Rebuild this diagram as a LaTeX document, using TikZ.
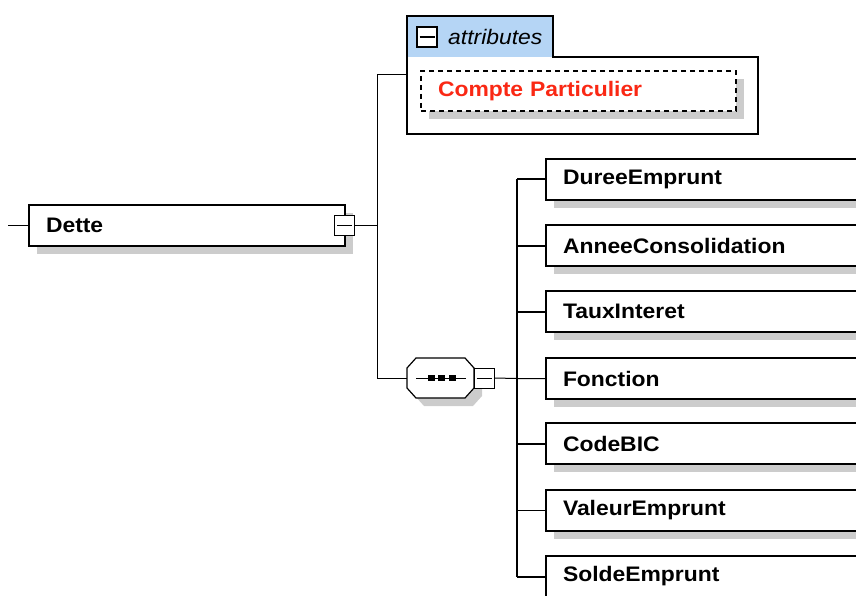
\documentclass[tikz,border=0pt]{standalone}
\usepackage{fontspec}
\setmainfont{Liberation Sans}
\newfontfamily\boxfont[FakeStretch=1.09]{Liberation Sans}
\usetikzlibrary{shadows,calc}
\definecolor{shadowgray}{RGB}{204,204,204}
\definecolor{tabblue}{RGB}{181,213,245}
\definecolor{attrred}{RGB}{250,40,20}
\begin{document}
\begin{tikzpicture}[x=1pt,y=-1pt,
  sh/.style={general shadow={fill=shadowgray, shadow xshift=8pt, shadow yshift=-8pt}},
  elem/.style={draw=black, line width=2pt, fill=white, minimum height=41pt,
    text width=#1, align=left, inner xsep=17pt, inner ysep=0pt, outer sep=0pt, anchor=north west,
    font=\boxfont\fontsize{21}{24}\selectfont\bfseries, sh},
  minusbox/.style={draw=black, line width=#1, fill=white, minimum width=20pt,
    minimum height=20pt, inner sep=0pt, outer sep=0pt,
    path picture={\draw[line width=#1]
      ([xshift=2.5pt]path picture bounding box.west) --
      ([xshift=-2.5pt]path picture bounding box.east);}},
  thin/.style={line width=1pt},
  thick/.style={line width=2pt},
]
\useasboundingbox (0,0) rectangle (856,596);
\clip (0,0) rectangle (856,596);

% --- Dette element
\node[elem=282pt] (dette) at (29,205) {Dette};
\node[minusbox=1.2pt] (dmin) at (344.5,225.5) {};
\coordinate (stub) at (8,225.5);
\coordinate (jA) at (377,225.5);
\coordinate (jT) at (377,75);
\coordinate (jS) at (377,378);

% --- attributes box
\node[minimum width=351pt, minimum height=118pt, inner sep=0pt, outer sep=0pt, anchor=north west] (attr) at (407,16) {};
\fill[tabblue] (attr.north west) rectangle ($(attr.north west)+(146,41)$);
\draw[line width=2pt, line join=miter]
  (attr.north west) -- ++(146,0) -- ++(0,41) -| (attr.south east) -- (attr.south west) -- cycle;
\node[minusbox=2pt, anchor=north west] (amin) at (417,27) {};
\node[anchor=west, inner sep=0pt, font=\boxfont\fontsize{21}{24}\selectfont\itshape] (atext) at (448,37) {attributes};
\node[draw=black, dash pattern=on 5pt off 4pt, line width=2pt, fill=white, minimum width=315pt,
  minimum height=40pt, anchor=north west, text width=281pt, inner xsep=17pt, inner ysep=0pt, outer sep=0pt, align=left,
  text=attrred, font=\boxfont\fontsize{21}{24}\selectfont\bfseries, sh] (cp) at (421,71) {Compte Particulier};

% --- sequence compositor
\node[minimum width=67pt, minimum height=40pt, inner sep=0pt, outer sep=0pt] (seq) at (440.5,378) {};
\draw[line width=1.2pt, fill=white, sh]
  ($(seq.north west)+(9,0)$) -- ($(seq.north east)+(-9,0)$) -- ($(seq.north east)+(0,10)$)
  -- ($(seq.south east)+(0,-10)$) -- ($(seq.south east)+(-9,0)$) -- ($(seq.south west)+(9,0)$)
  -- ($(seq.south west)+(0,-10)$) -- ($(seq.north west)+(0,10)$) -- cycle;
\coordinate (sl) at (416,378);
\coordinate (sr) at (466,378);
\draw[thin] (sl) -- (sr);
\foreach \xx/\nm in {431/q1,441.5/q2,452/q3}
  \node[fill=black, minimum width=7pt, minimum height=6pt, inner sep=0pt] (\nm) at (\xx,378) {};
\node[minusbox=1pt, anchor=west] (smin) at (seq.east) {};

% --- children
\foreach \nm/\txt/\yy in {
  c1/DureeEmprunt/159, c2/AnneeConsolidation/225, c3/TauxInteret/291,
  c4/Fonction/358, c5/CodeBIC/423, c6/ValeurEmprunt/490, c7/SoldeEmprunt/556}
  \node[elem=300pt] (\nm) at (546,\yy) {\txt};

\coordinate (jB) at (517,378);

% --- connectors
\draw[thin] (stub) -- (dette.west);
\draw[thin] (dmin.east) -- (jA);
\draw[thin] (jT) -- (jS);
\draw[thin] (jT) -- (jT -| attr.west);
\draw[thin] (jS) -- (seq.west);
\draw[thin] (smin.east) -- (jB |- c4.west) -- (c4.west);
\draw[thick] (jB |- c1.west) -- (jB |- c7.west);
\draw[thick] (jB |- c1.west) -- (c1.west);
\draw[thick] (jB |- c2.west) -- (c2.west);
\draw[thick] (jB |- c3.west) -- (c3.west);
\draw[thick] (jB |- c5.west) -- (c5.west);
\draw[thin]  (jB |- c6.west) -- (c6.west);
\draw[thick] (jB |- c7.west) -- (c7.west);
\end{tikzpicture}
\end{document}
